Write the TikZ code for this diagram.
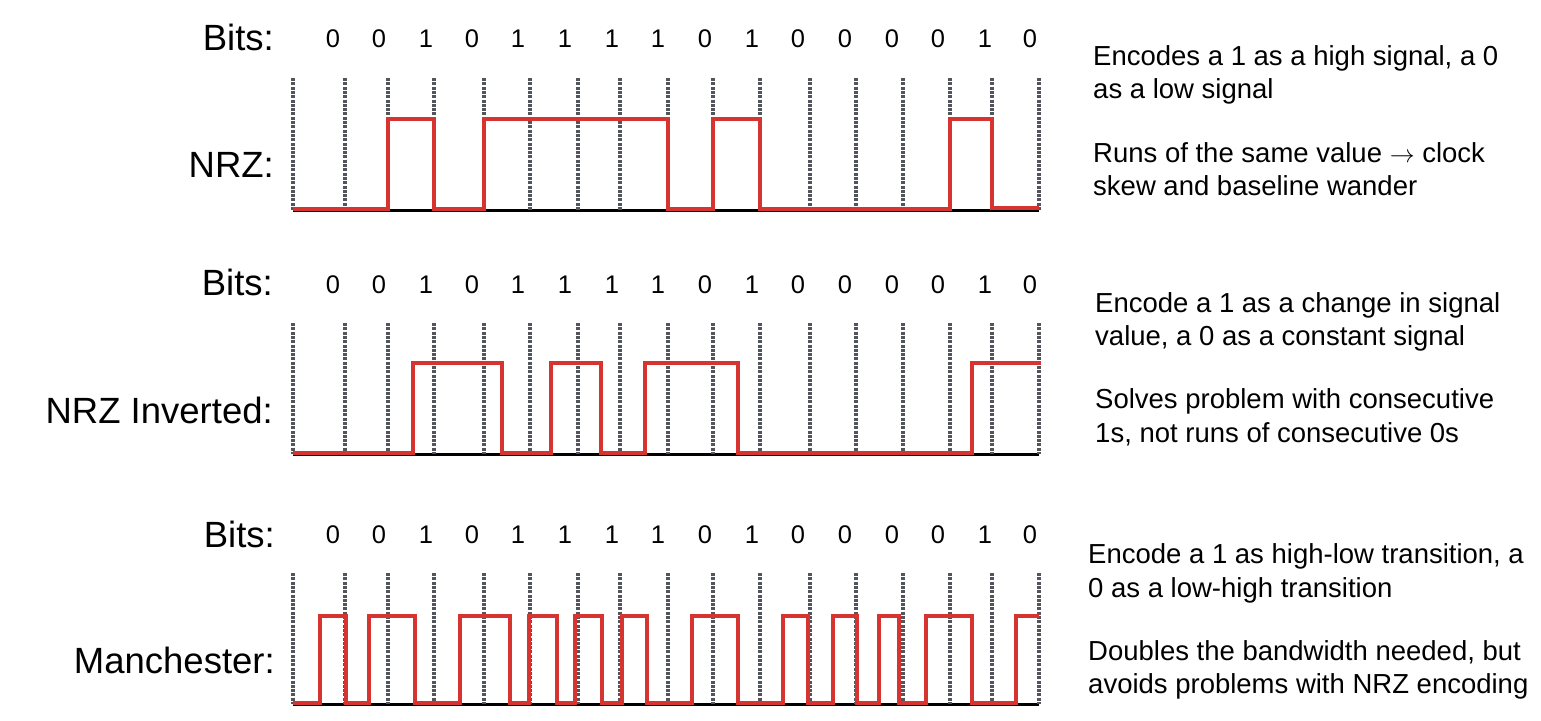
\documentclass[tikz,border=0pt]{standalone}
\usepackage{fontspec}
\setmainfont{Liberation Sans}
\definecolor{sigred}{RGB}{214,52,48}
\definecolor{gridgray}{RGB}{82,85,92}
\begin{document}
\begin{tikzpicture}[x=1pt,y=-1pt,
  lbl/.style={anchor=base east,inner sep=0pt,font=\fontsize{36.5}{40}\selectfont},
  bit/.style={anchor=base,inner sep=0pt,font=\fontsize{25.5}{30}\selectfont},
  note/.style={anchor=base west,inner sep=0pt,font=\fontsize{27.5}{33}\selectfont},
  gridline/.style={draw=gridgray,line width=3.6pt,dash pattern=on 3pt off 1.3pt},
  baseline/.style={draw=black,line width=3pt},
  signal/.style={draw=sigred,line width=4.4pt,line join=miter,line cap=butt}]
\useasboundingbox (0,0) rectangle (1541,720);
\fill[white] (0,0) rectangle (1541,720);

% ---------- grids and baselines ----------
\foreach \top/\bot in {78/210, 323/454, 573/704}{
  \draw[baseline] (293,\bot) -- (1039,\bot);
  \foreach \x in {293,345,388,434,484,530,578,620,668,713,760,810,856,903,950,992,1039}
    \draw[gridline] (\x,\top) -- (\x,\bot);
}

% ---------- bit labels ----------
\foreach \y/\p in {47/a,293/b,543/c}{
  \foreach \b [count=\i] in {0,0,1,0,1,1,1,1,0,1,0,0,0,0,1,0}{
    \pgfmathsetmacro{\bx}{{333,379,426,472,518,565,612,658,705,752,798,845,892,938,985,1030}[\i-1]}
    \node[bit] (bit\p\i) at (\bx,\y) {\b};
  }
}

% ---------- left labels ----------
\node[lbl] (bits1) at (274,50) {Bits:};
\node[lbl] (nrz) at (274,177) {NRZ:};
\node[lbl] (bits2) at (273,295) {Bits:};
\node[lbl] (nrzi) at (273,423) {NRZ Inverted:};
\node[lbl] (bits3) at (275,547) {Bits:};
\node[lbl] (manch) at (275,673) {Manchester:};

% ---------- NRZ ----------
\draw[signal] (293,209) -- (388,209) -- (388,119) -- (434,119) -- (434,209)
  -- (484,209) -- (484,119) -- (668,119) -- (668,209) -- (713,209) -- (713,119)
  -- (760,119) -- (760,209) -- (950,209) -- (950,119) -- (992,119) -- (992,208)
  -- (1039,208);

% ---------- NRZ Inverted ----------
\draw[signal] (293,453) -- (413,453) -- (413,363) -- (502,363) -- (502,453)
  -- (551,453) -- (551,363) -- (601,363) -- (601,453) -- (645,453) -- (645,363)
  -- (738,363) -- (738,453) -- (972,453) -- (972,363) -- (1041,363);

% ---------- Manchester ----------
\draw[signal] (293,703) -- (320,703) -- (320,616) -- (346,616) -- (346,703)
  -- (369,703) -- (369,616) -- (415,616) -- (415,703) -- (460,703) -- (460,616)
  -- (510,616) -- (510,703) -- (529,703) -- (529,616) -- (557,616) -- (557,703)
  -- (575,703) -- (575,616) -- (602,616) -- (602,703) -- (622,703) -- (622,616)
  -- (647,616) -- (647,703) -- (692,703) -- (692,616) -- (738,616) -- (738,703)
  -- (783,703) -- (783,616) -- (808,616) -- (808,703) -- (833,703) -- (833,616)
  -- (857,616) -- (857,703) -- (879,703) -- (879,616) -- (899,616) -- (899,703)
  -- (926,703) -- (926,616) -- (972,616) -- (972,703) -- (1016,703) -- (1016,616)
  -- (1039,616);

% ---------- notes ----------
\node[note] (n1a) at (1093,65) {Encodes a 1 as a high signal, a 0};
\node[note] (n1b) at (1093,98) {as a low signal};
\node[note] (n1c) at (1093,162) {Runs of the same value $\rightarrow$ clock};
\node[note] (n1d) at (1093,195) {skew and baseline wander};

\node[note] (n2a) at (1095,312) {Encode a 1 as a change in signal};
\node[note] (n2b) at (1095,345) {value, a 0 as a constant signal};
\node[note] (n2c) at (1095,408) {Solves problem with consecutive};
\node[note] (n2d) at (1095,442) {1s, not runs of consecutive 0s};

\node[note] (n3a) at (1088,563) {Encode a 1 as high-low transition, a};
\node[note] (n3b) at (1088,597) {0 as a low-high transition};
\node[note] (n3c) at (1088,660) {Doubles the bandwidth needed, but};
\node[note] (n3d) at (1088,693) {avoids problems with NRZ encoding};
\end{tikzpicture}
\end{document}
